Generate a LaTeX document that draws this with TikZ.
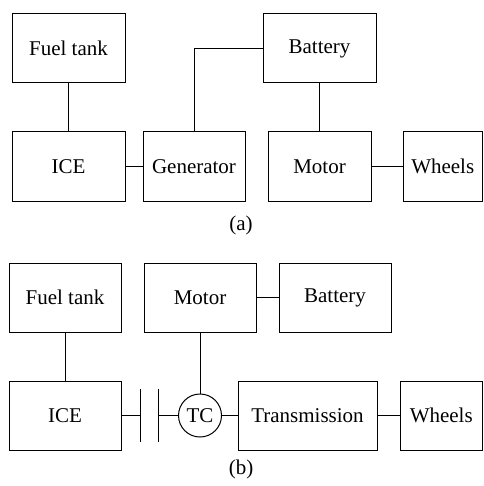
\documentclass[tikz,border=0pt]{standalone}
\usepackage{fontspec}
\setmainfont{LiberationSerif-Regular.ttf}
\begin{document}
\begin{tikzpicture}[x=1pt,y=-1pt,
  blk/.style={draw,line width=1pt,rectangle,inner sep=0pt,minimum height=69pt,font=\fontsize{21}{25}\selectfont},
  conn/.style={line width=1pt},
  lbl/.style={font=\fontsize{21}{25}\selectfont,inner sep=0pt}]
\useasboundingbox (0,0) rectangle (483,486);
% (a)
\node[blk,minimum width=113pt] (aF) at (68.5,48.5) {Fuel tank};
\node[blk,minimum width=113pt] (aB) at (319.5,48.5) {Battery};
\node[blk,minimum width=113pt] (aI) at (68.5,166.5) {ICE};
\node[blk,minimum width=102pt] (aG) at (194,166.5) {Generator};
\node[blk,minimum width=103pt] (aM) at (319.5,166.5) {Motor};
\node[blk,minimum width=79.5pt] (aW) at (442.75,166.5) {Wheels};
\draw[conn] (aF) -- (aI);
\draw[conn] (aI) -- (aG);
\draw[conn] (aG.north) |- (aB.west);
\draw[conn] (aB) -- (aM);
\draw[conn] (aM) -- (aW);
\node[lbl] (la) at (241,225) {(a)};
% (b)
\node[blk,minimum width=112pt] (bF) at (65,297.5) {Fuel tank};
\node[blk,minimum width=112pt] (bM) at (200,297.5) {Motor};
\node[blk,minimum width=112pt] (bB) at (335,297.5) {Battery};
\node[blk,minimum width=112pt] (bI) at (65,415.5) {ICE};
\node[blk,minimum width=139pt] (bT) at (307.5,415.5) {Transmission};
\node[blk,minimum width=82.5pt] (bW) at (441.25,415.5) {Wheels};
\node[draw,line width=1pt,circle,inner sep=0pt,minimum size=43pt,font=\fontsize{21}{25}\selectfont] (tc) at (200,415.5) {TC};
\coordinate (p1) at (140,415.5);
\coordinate (p2) at (158.5,415.5);
\draw[conn] ([yshift=-26.5pt]p1) -- ([yshift=26.5pt]p1);
\draw[conn] ([yshift=-26.5pt]p2) -- ([yshift=26.5pt]p2);
\draw[conn] (bF) -- (bI);
\draw[conn] (bM) -- (bB);
\draw[conn] (bM) -- (tc);
\draw[conn] (bI) -- (p1);
\draw[conn] (p2) -- (tc);
\draw[conn] (tc) -- (bT);
\draw[conn] (bT) -- (bW);
\node[lbl] (lb) at (241,469) {(b)};
\end{tikzpicture}
\end{document}
